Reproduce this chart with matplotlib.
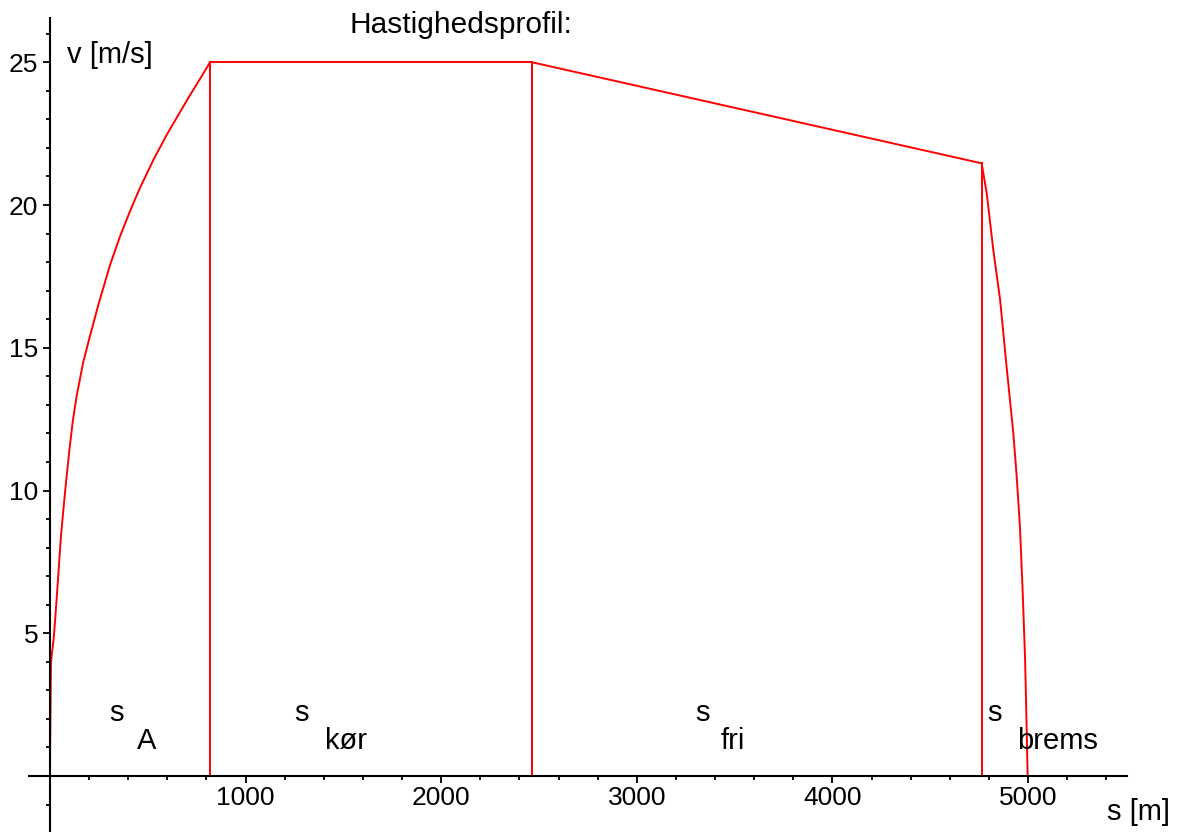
import numpy as np
import matplotlib
matplotlib.use("Agg")
import matplotlib.pyplot as plt
from matplotlib.ticker import FixedLocator

# Hastighedsprofil: aflæste punkter (s i m, v i m/s)
accel_s = [0, 5, 20, 34, 46, 56, 68, 82, 99, 116, 136, 170, 204, 247,
           307, 358, 410, 460, 530, 596, 660, 716, 770, 818]
accel_v = [0.45, 4.0, 4.9, 6.2, 7.4, 8.4, 9.3, 10.3, 11.4, 12.4, 13.3,
           14.5, 15.4, 16.5, 17.9, 18.9, 19.8, 20.6, 21.6, 22.45,
           23.2, 23.85, 24.45, 25.0]

drive_s = [818, 2464]
drive_v = [25.0, 25.0]

coast_s = [2464, 4763]
coast_v = [25.0, 21.46]

brake_s = [4763, 4789, 4823, 4857, 4891, 4925, 4942, 4959, 4973, 4985, 4993, 4998]
brake_v = [21.46, 20.4, 18.4, 16.7, 14.3, 12.0, 10.5, 8.7, 6.4, 4.1, 1.7, 0.0]

# lodrette skillelinjer mellem faserne
split_s = [818, 2464, 4763]
split_v = [25.0, 25.0, 21.46]

x_ticks = [1000, 2000, 3000, 4000, 5000]
y_ticks = [5, 10, 15, 20, 25]

phase_names = ["A", "kør", "fri", "brems"]
phase_s_pos = [342, 1288, 3338, 4831]
phase_sub_pos = [493, 1513, 3492, 5153]

plt.rcParams['font.family'] = ['Liberation Sans', 'DejaVu Sans']

fig = plt.figure(figsize=(11.8, 8.32), dpi=100)
ax = fig.add_axes([0, 0, 1, 1])
ax.set_xlim(-255.6, 5777)
ax.set_ylim(-1.96, 27.18)

red = "#ff0000"
lw = 1.4
ax.plot(accel_s, accel_v, color=red, lw=lw)
ax.plot(drive_s, drive_v, color=red, lw=lw)
ax.plot(coast_s, coast_v, color=red, lw=lw)
ax.plot(brake_s, brake_v, color=red, lw=lw)
for s, v in zip(split_s, split_v):
    ax.plot([s, s], [0, v], color=red, lw=lw)

# akser gennem origo (Maple-stil)
for side in ["top", "right"]:
    ax.spines[side].set_visible(False)
ax.spines['left'].set_position(('data', 0))
ax.spines['bottom'].set_position(('data', 0))
ax.spines['left'].set_bounds(-1.96, 26.55)
ax.spines['bottom'].set_bounds(-107, 5506)
for side in ["left", "bottom"]:
    ax.spines[side].set_linewidth(1.5)
    ax.spines[side].set_color("black")

ax.xaxis.set_major_locator(FixedLocator(x_ticks))
ax.xaxis.set_minor_locator(FixedLocator(np.arange(200, 5401, 200)))
ax.yaxis.set_major_locator(FixedLocator(y_ticks))
ax.yaxis.set_minor_locator(FixedLocator(np.arange(-1, 27, 1)))
ax.tick_params(which="major", direction="out", length=5, width=1.3,
               labelsize=19, colors="black")
ax.tick_params(which="minor", direction="out", length=3, width=1.3)
ax.tick_params(axis="x", which="major", pad=2)
ax.tick_params(axis="y", which="major", pad=3.5)

# tekster
fig.text(461 / 1180, 1 - 33 / 832, "Hastighedsprofil:", ha="center",
         va="baseline", fontsize=21.5)
fig.text(67 / 1180, 1 - 63 / 832, "v [m/s]", ha="left", va="baseline",
         fontsize=21)
fig.text(1107 / 1180, 1 - 820 / 832, "s [m]", ha="left", va="baseline",
         fontsize=21)

for name, sp, sub in zip(phase_names, phase_s_pos, phase_sub_pos):
    ax.text(sp, 1.93, "s", ha="center", va="baseline", fontsize=21)
    ax.text(sub, 0.95, name, ha="center", va="baseline", fontsize=21)

fig.savefig("out.png", dpi=100)
